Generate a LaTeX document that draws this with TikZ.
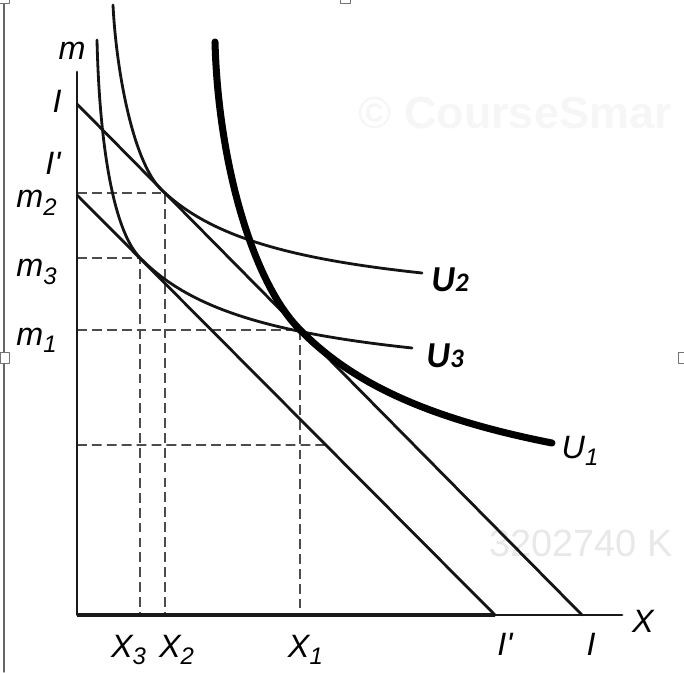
\documentclass[tikz,border=0pt]{standalone}
\usepackage{fontspec}
\setmainfont{Liberation Sans}
\newfontfamily\carlito{Carlito}
\newcommand{\lblsub}[2]{#1\raisebox{-0.22em}{\fontsize{17}{17}\selectfont #2}}
\newcommand{\ulbl}[2]{{\carlito\bfseries\itshape #1\fontsize{19}{19}\selectfont #2}}
\begin{document}
\begin{tikzpicture}[line join=round, line cap=round,
    lbl/.style={font=\fontsize{23}{26}\selectfont\itshape, inner sep=0pt, anchor=base},
    guide/.style={dash pattern=on 7pt off 3.6pt, line cap=butt, line width=1.25pt, black!70},
    budget/.style={line width=2pt, black!92},
    curve/.style={line width=2pt, black!92},
    handle/.style={draw=black!55, fill=white, line width=0.6pt}]
    \useasboundingbox (-1.925,-1.425) rectangle (15.175,15.375);
    % faint watermarks
    \node[text=black!3.5, font=\fontsize{32}{32}\selectfont\bfseries] (wmA) at (10.95,12.55) {© CourseSmar};
    \node[text=black!9, font=\fontsize{27}{27}\selectfont] (wmB) at (12.6,1.8) {3202740 K};
    % screenshot frame
    \draw[black!60, line width=1pt] (-1.825,15.375) -- (-1.825,-1.425);
    \draw[handle] (-1.925,6.575) rectangle (-1.7,6.3);
    \draw[handle] (15.025,6.575) rectangle (15.3,6.3);
    \draw[handle] (6.575,15.5) rectangle (6.825,15.28);
    \draw[handle] (-1.95,15.5) rectangle (-1.7,15.3);

    \coordinate (O) at (0,0);
    \coordinate (Iy) at (0,12.775);
    \coordinate (Ix) at (12.625,0);
    \coordinate (Jy) at (0,10.5);
    \coordinate (Jx) at (10.45,0);
    \coordinate (T1) at (5.575,7.13);
    \coordinate (T2) at (2.2,10.55);
    \coordinate (T3) at (1.575,8.93);

    % dashed guides
    \draw[guide] (O |- T2) -- (T2) -- (T2 |- O);
    \draw[guide] (O |- T3) -- (T3) -- (T3 |- O);
    \draw[guide] (O |- T1) -- (T1) -- (T1 |- O);
    \draw[guide] (0,4.25) -- (intersection of Jy--Jx and 0,4.25--1,4.25);

    % axes
    \draw[line width=1.9pt, black!90] (0,13.575) -- (O) -- (13.625,0);
    \draw[line width=2.5pt, black!90, line cap=butt] (O) -- (Jx);

    % budget lines
    \draw[budget] (Iy) -- (Ix);
    \draw[budget] (Jy) -- (Jx);

    % indifference curves
    \draw[curve] (0.9,15.25) .. controls (0.98,13.6) and (1.42,11.15) .. (T2)
        -- plot[domain=2.2:8.625, samples=40] ({\x},{7.509+10.166/(\x+1.143)});
    \draw[curve] (0.5,14.375) .. controls (0.56,11.8) and (0.9,9.62) .. (T3)
        -- plot[domain=1.575:8.375, samples=40] ({\x},{5.605+10.73/(\x+1.652)});
    \draw[line width=5pt] (3.45,14.325) .. controls (3.53,11.3) and (4.4,8.3) .. (T1)
        -- plot[domain=5.575:11.875, samples=40] ({\x},{2.081+24.94/(\x-0.635)});

    % labels
    \node[lbl] (mlbl) at (-0.125,13.875) {m};
    \node[lbl] (Ilbl) at (-0.5,12.55) {I};
    \node[lbl] (Jlbl) at (-0.6,11.0) {I\textquotesingle};
    \node[lbl, anchor=base east] (m2lbl) at (-0.5,10.175) {\lblsub{m}{2}};
    \node[lbl, anchor=base east] (m3lbl) at (-0.5,8.45) {\lblsub{m}{3}};
    \node[lbl, anchor=base east] (m1lbl) at (-0.5,6.75) {\lblsub{m}{1}};
    \node[lbl] (x3lbl) at (1.29,-1.05) {\lblsub{X}{3}};
    \node[lbl] (x2lbl) at (2.49,-1.05) {\lblsub{X}{2}};
    \node[lbl] (x1lbl) at (5.71,-1.05) {\lblsub{X}{1}};
    \node[lbl] (Jxlbl) at (10.7,-1.0) {I\textquotesingle};
    \node[lbl] (Ixlbl) at (12.85,-1.0) {I};
    \node[lbl] (Xlbl) at (14.15,-0.425) {X};
    \node[lbl] (u1lbl) at (12.575,3.925) {\lblsub{U}{1}};
    \node[inner sep=0pt, anchor=base, font=\fontsize{26}{26}\selectfont] (u2lbl) at (9.325,8.075) {\ulbl{U}{2}};
    \node[inner sep=0pt, anchor=base, font=\fontsize{26}{26}\selectfont] (u3lbl) at (9.2,6.175) {\ulbl{U}{3}};
\end{tikzpicture}
\end{document}
